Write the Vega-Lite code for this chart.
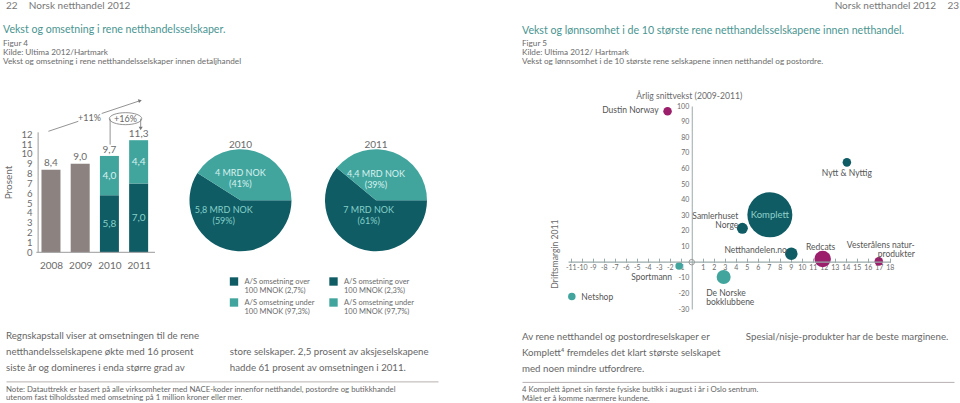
{
  "$schema": "https://vega.github.io/schema/vega-lite/v6.json",
  "padding": {"left": 3, "top": 1, "right": 0, "bottom": 0},
  "background": "white",
  "config": {
    "font": "Lato",
    "view": {"stroke": null},
    "locale": {"number": {"decimal": ",", "thousands": " ", "grouping": [3], "currency": ["", " kr"], "minus": "-"}},
    "axis": {"grid": false, "labelColor": "#6b6b6b", "titleColor": "#6b6b6b", "titleFontWeight": "normal", "labelFont": "Lato", "titleFont": "Lato", "domainColor": "#9a9a9a", "labelOverlap": false, "tickCount": 60},
    "title": {"font": "Lato", "fontWeight": "normal", "color": "#4a9591", "subtitleFont": "Lato", "subtitleColor": "#6b6b6b"},
    "legend": {"labelFont": "Lato"},
    "text": {"font": "Lato"}
  },
  "datasets": {
    "topp": [
      {"side": "v", "tekst": "22\u2002\u2002\u2009Norsk netthandel 2012"},
      {"side": "h", "tekst": "Norsk netthandel 2012\u2002\u2002\u200923"}
    ],
    "stolper": [
      {"aar": 2008, "del": "samlet", "verdi": 8.4},
      {"aar": 2009, "del": "samlet", "verdi": 9.0},
      {"aar": 2010, "del": "over", "verdi": 5.8},
      {"aar": 2010, "del": "under", "verdi": 4.0},
      {"aar": 2011, "del": "over", "verdi": 7.0},
      {"aar": 2011, "del": "under", "verdi": 4.4}
    ],
    "totaler": [
      {"aar": 2008, "total": 8.4},
      {"aar": 2009, "total": 9.0},
      {"aar": 2010, "total": 9.7},
      {"aar": 2011, "total": 11.3}
    ],
    "piler": [
      {"x1": 2007.912, "y1": 12.305, "x2": 2008.936, "y2": 13.322},
      {"x1": 2009.736, "y1": 14.116, "x2": 2011.05, "y2": 15.42},
      {"x1": 2010.024, "y1": 13.59, "x2": 2010.024, "y2": 10.95},
      {"x1": 2011.07, "y1": 13.59, "x2": 2011.07, "y2": 12.75}
    ],
    "merker": [
      {"type": "tekst", "aar": 2009.32, "v": 13.627, "tekst": "+11%"},
      {"type": "tekst", "aar": 2010.552, "v": 13.59, "tekst": "+16%"},
      {"type": "ring", "aar": 2010.552, "v": 13.59},
      {"type": "spiss1", "aar": 2011.05, "v": 15.42},
      {"type": "spiss2", "aar": 2011.07, "v": 12.6}
    ],
    "kake": [
      {"aar": "2010", "segment": "A/S omsetning over|100 MNOK (2,7%)", "del": "over", "andel": 59, "etikett": "5,8 MRD NOK\n(59%)"},
      {"aar": "2010", "segment": "A/S omsetning under|100 MNOK (97,3%)", "del": "under", "andel": 41, "etikett": "4 MRD NOK\n(41%)"},
      {"aar": "2011", "segment": "A/S omsetning over|100 MNOK (2,3%)", "del": "over", "andel": 61, "etikett": "7 MRD NOK\n(61%)"},
      {"aar": "2011", "segment": "A/S omsetning under|100 MNOK (97,7%)", "del": "under", "andel": 39, "etikett": "4,4 MRD NOK\n(39%)"}
    ],
    "firma": [
      {"navn": "Dustin Norway", "etikett": "Dustin Norway", "margin": -2.2, "vekst": 96.6, "oms": 145, "gruppe": "B"},
      {"navn": "Nytt & Nyttig", "etikett": "Nytt & Nyttig", "margin": 14.1, "vekst": 63.9, "oms": 145, "gruppe": "A"},
      {"navn": "Komplett", "etikett": "Komplett", "margin": 7.1, "vekst": 30.3, "oms": 4050, "gruppe": "A"},
      {"navn": "Samlerhuset Norge", "etikett": "Samlerhuset\nNorge", "margin": 4.6, "vekst": 21.7, "oms": 242, "gruppe": "A"},
      {"navn": "Netthandelen.no", "etikett": "Netthandelen.no", "margin": 9.05, "vekst": 5.4, "oms": 312, "gruppe": "A"},
      {"navn": "Redcats", "etikett": "Redcats", "margin": 11.9, "vekst": 2.0, "oms": 545, "gruppe": "B"},
      {"navn": "Vesterålens naturprodukter", "etikett": "Vesterålens natur-\nprodukter", "margin": 17.0, "vekst": 0.5, "oms": 145, "gruppe": "B"},
      {"navn": "Sportmann", "etikett": "Sportmann", "margin": -1.15, "vekst": -2.5, "oms": 112, "gruppe": "C"},
      {"navn": "De Norske bokklubbene", "etikett": "De Norske\nbokklubbene", "margin": 2.9, "vekst": -9.5, "oms": 392, "gruppe": "C"},
      {"navn": "Netshop", "etikett": "Netshop", "margin": -10.9, "vekst": -22.0, "oms": 112, "gruppe": "C"}
    ],
    "tekstV": [
      {"kol": "1", "linje": 1, "tekst": "Regnskapstall viser at omsetningen til de rene"},
      {"kol": "1", "linje": 2, "tekst": "netthandelsselskapene økte med 16 prosent"},
      {"kol": "1", "linje": 3, "tekst": "siste år og domineres i enda større grad av"},
      {"kol": "2", "linje": 2, "tekst": "store selskaper. 2,5 prosent av aksjeselskapene"},
      {"kol": "2", "linje": 3, "tekst": "hadde 61 prosent av omsetningen i 2011."}
    ],
    "tekstH": [
      {"kol": "1", "linje": 1, "tekst": "Av rene netthandel og postordreselskaper er"},
      {"kol": "1", "linje": 2, "tekst": "Komplett\u2074 fremdeles det klart største selskapet"},
      {"kol": "1", "linje": 3, "tekst": "med noen mindre utfordrere."},
      {"kol": "2", "linje": 1, "tekst": "Spesial/nisje-produkter har de beste marginene."}
    ],
    "fotV": [
      {"linje": 1, "tekst": "Note: Datauttrekk er basert på alle virksomheter med NACE-koder innenfor netthandel, postordre og butikkhandel"},
      {"linje": 2, "tekst": "utenom fast tilholdssted med omsetning på 1 million kroner eller mer."}
    ],
    "fotH": [
      {"linje": 1, "tekst": "4 Komplett åpnet sin første fysiske butikk i august i år i Oslo sentrum."},
      {"linje": 2, "tekst": "Målet er å komme nærmere kundene."}
    ]
  },
  "spacing": 14,
  "resolve": {"scale": {"color": "independent", "size": "independent", "theta": "independent"}},
  "vconcat": [
    {
      "width": 953,
      "height": 10,
      "data": {"name": "topp"},
      "layer": [
        {
          "transform": [{"filter": "datum.side === 'v'"}],
          "mark": {"type": "text", "align": "left", "baseline": "middle", "fontSize": 10, "color": "#777777"},
          "encoding": {
            "x": {"field": "side", "type": "nominal", "bandPosition": 0, "scale": {"type": "band", "domain": ["v", "h"], "paddingInner": 0, "paddingOuter": 0}, "axis": null},
            "text": {"field": "tekst"}
          }
        },
        {
          "transform": [{"filter": "datum.side === 'h'"}],
          "mark": {"type": "text", "align": "right", "baseline": "middle", "fontSize": 10, "color": "#777777"},
          "encoding": {
            "x": {"field": "side", "type": "nominal", "bandPosition": 1, "scale": {"type": "band", "domain": ["v", "h"], "paddingInner": 0, "paddingOuter": 0}, "axis": null},
            "text": {"field": "tekst"}
          }
        }
      ]
    },
    {
      "spacing": 84,
      "resolve": {"scale": {"color": "independent", "size": "independent", "theta": "independent"}},
      "hconcat": [
        {
          "title": {"text": "Vekst og omsetning i rene netthandelsselskaper.", "subtitle": ["Figur 4", "Kilde:  Ultima 2012/Hartmark", "Vekst og omsetning i rene netthandelsselskaper innen detaljhandel"], "anchor": "start", "frame": "bounds", "fontSize": 10.6, "subtitleFontSize": 8.2, "subtitleLineHeight": 9, "subtitlePadding": 4, "offset": 34},
          "spacing": 12.5,
          "resolve": {"scale": {"color": "independent", "size": "independent", "theta": "independent"}},
          "vconcat": [
            {
              "bounds": "flush",
              "spacing": 25.5,
              "resolve": {"scale": {"color": "independent", "size": "independent", "theta": "independent"}},
              "hconcat": [
                {
                  "width": 154,
                  "height": 146.3,
                  "layer": [
                    {
                      "data": {"name": "stolper"},
                      "mark": {"type": "bar", "size": 19},
                      "encoding": {
                        "x": {"field": "aar", "type": "quantitative", "scale": {"domain": [2006.632, 2011.56], "nice": false, "zero": false}, "axis": {"values": [2008, 2009, 2010, 2011], "format": "d", "title": null, "ticks": false, "domain": false, "labelFontSize": 10, "labelPadding": 8}},
                        "y": {"field": "verdi", "type": "quantitative", "stack": "zero", "scale": {"domain": [0, 14.878], "nice": false}, "axis": {"values": [0, 1, 2, 3, 4, 5, 6, 7, 8, 9, 10, 11, 12], "format": "d", "offset": -29, "domain": false, "title": "Prosent", "titleFontSize": 10, "titleX": -22, "titleY": 76, "ticks": false, "labelFontSize": 9.5, "labelPadding": 3}},
                        "color": {"field": "del", "type": "nominal", "scale": {"domain": ["samlet", "over", "under"], "range": ["#8c8381", "#0f5c65", "#41a59e"]}, "legend": null},
                        "order": {"field": "del", "sort": "ascending"}
                      }
                    },
                    {
                      "data": {"values": [{}]},
                      "mark": {"type": "rule", "color": "#9a9a9a", "strokeWidth": 1},
                      "encoding": {"x": {"datum": 2007.5}, "x2": {"datum": 2011.56}, "y": {"datum": 0}}
                    },
                    {
                      "data": {"values": [{}]},
                      "mark": {"type": "rule", "color": "#9a9a9a", "strokeWidth": 1},
                      "encoding": {"x": {"datum": 2007.56}, "y": {"datum": 0}, "y2": {"datum": 12.2}}
                    },
                    {
                      "data": {"name": "stolper"},
                      "transform": [
                        {"stack": "verdi", "groupby": ["aar"], "sort": [{"field": "del", "order": "ascending"}], "as": ["v0", "v1"]},
                        {"filter": {"field": "del", "oneOf": ["over", "under"]}},
                        {"fold": ["v0", "v1"], "as": ["kant", "pos"]},
                        {"aggregate": [{"op": "mean", "field": "pos", "as": "midt"}, {"op": "max", "field": "verdi", "as": "verdi"}], "groupby": ["aar", "del"]}
                      ],
                      "mark": {"type": "text", "fontSize": 10, "baseline": "middle"},
                      "encoding": {
                        "x": {"field": "aar", "type": "quantitative"},
                        "y": {"field": "midt", "type": "quantitative"},
                        "text": {"field": "verdi", "type": "quantitative", "format": ".1f"},
                        "color": {"condition": {"test": "datum.del === 'over'", "value": "#86d0c8"}, "value": "#d9f1ee"}
                      }
                    },
                    {
                      "data": {"name": "totaler"},
                      "mark": {"type": "text", "fontSize": 10, "baseline": "middle", "dy": -7, "color": "#6b6b6b"},
                      "encoding": {
                        "x": {"field": "aar", "type": "quantitative"},
                        "y": {"field": "total", "type": "quantitative"},
                        "text": {"field": "total", "type": "quantitative", "format": ".1f"}
                      }
                    },
                    {
                      "data": {"name": "piler"},
                      "mark": {"type": "rule", "color": "#777777", "strokeWidth": 0.8},
                      "encoding": {
                        "x": {"field": "x1", "type": "quantitative"},
                        "y": {"field": "y1", "type": "quantitative"},
                        "x2": {"field": "x2"},
                        "y2": {"field": "y2"}
                      }
                    },
                    {
                      "data": {"name": "merker"},
                      "transform": [{"filter": "datum.type === 'ring'"}],
                      "mark": {"type": "point", "shape": "M-1,0A1,0.37,0,1,0,1,0A1,0.37,0,1,0,-1,0Z", "filled": false, "size": 1050, "color": "#777777", "strokeWidth": 0.8, "opacity": 1},
                      "encoding": {"x": {"field": "aar", "type": "quantitative"}, "y": {"field": "v", "type": "quantitative"}}
                    },
                    {
                      "data": {"name": "merker"},
                      "transform": [{"filter": "datum.type === 'tekst'"}],
                      "mark": {"type": "text", "fontSize": 9, "color": "#666666", "baseline": "middle"},
                      "encoding": {"x": {"field": "aar", "type": "quantitative"}, "y": {"field": "v", "type": "quantitative"}, "text": {"field": "tekst"}}
                    },
                    {
                      "data": {"name": "merker"},
                      "transform": [{"filter": "datum.type === 'spiss1'"}],
                      "mark": {"type": "point", "shape": "triangle-right", "angle": -17, "size": 16, "filled": true, "color": "#777777", "opacity": 1},
                      "encoding": {"x": {"field": "aar", "type": "quantitative"}, "y": {"field": "v", "type": "quantitative"}}
                    },
                    {
                      "data": {"name": "merker"},
                      "transform": [{"filter": "datum.type === 'spiss2'"}],
                      "mark": {"type": "point", "shape": "triangle-down", "size": 16, "filled": true, "color": "#777777", "opacity": 1},
                      "encoding": {"x": {"field": "aar", "type": "quantitative"}, "y": {"field": "v", "type": "quantitative"}}
                    }
                  ]
                },
                {
                  "width": 110,
                  "height": 188.6,
                  "title": {"text": "2010", "fontSize": 10, "color": "#6b6b6b", "offset": -44, "anchor": "middle"},
                  "data": {"name": "kake"},
                  "transform": [{"filter": "datum.aar === '2010'"}],
                  "encoding": {
                    "theta": {"field": "andel", "type": "quantitative", "stack": true, "scale": {"range": [1.5708, 7.854]}},
                    "order": {"field": "del", "sort": "ascending"}
                  },
                  "layer": [
                    {
                      "mark": {"type": "arc", "outerRadius": 51},
                      "encoding": {"color": {"field": "segment", "type": "nominal", "scale": {"range": ["#0f5c65", "#41a59e"]}, "legend": {"orient": "none", "legendX": 44, "legendY": 171, "title": null, "labelExpr": "split(datum.label, '|')", "symbolType": "square", "symbolSize": 70, "symbolStrokeWidth": 0, "labelFontSize": 7.5, "labelColor": "#6b6b6b", "rowPadding": 3, "labelOffset": 6, "labelLimit": 200}}}
                    },
                    {
                      "mark": {"type": "text", "radius": 10, "dx": -14, "fontSize": 9, "lineBreak": "\n", "color": "#86d0c8", "baseline": "middle"},
                      "encoding": {"detail": {"field": "segment", "type": "nominal"}, "text": {"condition": {"test": "datum.del === 'over'", "field": "etikett"}, "value": ""}}
                    },
                    {
                      "mark": {"type": "text", "radius": 28, "dx": -8, "fontSize": 9, "lineBreak": "\n", "color": "#d9f1ee", "baseline": "middle"},
                      "encoding": {"detail": {"field": "segment", "type": "nominal"}, "text": {"condition": {"test": "datum.del === 'under'", "field": "etikett"}, "value": ""}}
                    }
                  ]
                },
                {
                  "width": 110,
                  "height": 188.6,
                  "title": {"text": "2011", "fontSize": 10, "color": "#6b6b6b", "offset": -44, "anchor": "middle"},
                  "data": {"name": "kake"},
                  "transform": [{"filter": "datum.aar === '2011'"}],
                  "encoding": {
                    "theta": {"field": "andel", "type": "quantitative", "stack": true, "scale": {"range": [1.5708, 7.854]}},
                    "order": {"field": "del", "sort": "ascending"}
                  },
                  "layer": [
                    {
                      "mark": {"type": "arc", "outerRadius": 51},
                      "encoding": {"color": {"field": "segment", "type": "nominal", "scale": {"range": ["#0f5c65", "#41a59e"]}, "legend": {"orient": "none", "legendX": 8, "legendY": 171, "title": null, "labelExpr": "split(datum.label, '|')", "symbolType": "square", "symbolSize": 70, "symbolStrokeWidth": 0, "labelFontSize": 7.5, "labelColor": "#6b6b6b", "rowPadding": 3, "labelOffset": 6, "labelLimit": 200}}}
                    },
                    {
                      "mark": {"type": "text", "radius": 10, "dx": -4, "fontSize": 9, "lineBreak": "\n", "color": "#86d0c8", "baseline": "middle"},
                      "encoding": {"detail": {"field": "segment", "type": "nominal"}, "text": {"condition": {"test": "datum.del === 'over'", "field": "etikett"}, "value": ""}}
                    },
                    {
                      "mark": {"type": "text", "radius": 28, "dx": -9.5, "fontSize": 9, "lineBreak": "\n", "color": "#d9f1ee", "baseline": "middle"},
                      "encoding": {"detail": {"field": "segment", "type": "nominal"}, "text": {"condition": {"test": "datum.del === 'under'", "field": "etikett"}, "value": ""}}
                    }
                  ]
                }
              ]
            },
            {
              "spacing": 4.9,
              "vconcat": [
                {
                  "width": 432,
                  "height": 47.4,
                  "data": {"name": "tekstV"},
                  "mark": {"type": "text", "align": "left", "baseline": "middle", "fontSize": 9.7, "color": "#666666"},
                  "encoding": {
                    "x": {"field": "kol", "type": "nominal", "bandPosition": 0, "scale": {"type": "band", "domain": ["1", "2"], "paddingInner": 0.07, "paddingOuter": 0}, "axis": null},
                    "y": {"field": "linje", "type": "ordinal", "scale": {"type": "band", "domain": [1, 2, 3], "paddingInner": 0, "paddingOuter": 0}, "axis": null},
                    "text": {"field": "tekst"}
                  }
                },
                {
                  "width": 432,
                  "height": 25,
                  "data": {"name": "fotV"},
                  "mark": {"type": "text", "align": "left", "baseline": "middle", "fontSize": 7.8, "color": "#666666"},
                  "encoding": {
                    "x": {"datum": 0, "type": "quantitative", "scale": {"domain": [0, 1], "nice": false}, "axis": {"orient": "top", "domain": true, "domainColor": "#b8b0b0", "labels": false, "ticks": false, "title": null}},
                    "y": {"field": "linje", "type": "ordinal", "scale": {"type": "point", "padding": 1}, "axis": null},
                    "text": {"field": "tekst"}
                  }
                }
              ]
            }
          ]
        },
        {
          "title": {"text": "Vekst og lønnsomhet i de 10 største rene netthandelsselskapene innen netthandel.", "subtitle": ["Figur 5", "Kilde: Ultima 2012/ Hartmark", "Vekst og lønnsomhet i de 10 største rene selskapene innen netthandel og postordre."], "anchor": "start", "frame": "bounds", "fontSize": 10.6, "subtitleFontSize": 8.2, "subtitleLineHeight": 9, "subtitlePadding": 4, "offset": 26},
          "spacing": 17,
          "resolve": {"scale": {"color": "independent", "size": "independent", "theta": "independent"}},
          "vconcat": [
            {
              "width": 368,
              "height": 203,
              "data": {"name": "firma"},
              "layer": [
                {
                  "mark": {"type": "circle", "opacity": 1},
                  "encoding": {
                    "x": {"field": "margin", "type": "quantitative", "scale": {"domain": [-15.43, 18.02], "nice": false, "zero": false}, "axis": {"orient": "bottom", "offset": -46.85, "domain": false, "format": "d", "values": [-11, -10, -9, -8, -7, -6, -5, -4, -3, -2, -1, 1, 2, 3, 4, 5, 6, 7, 8, 9, 10, 11, 12, 13, 14, 15, 16, 17, 18], "tickCount": 60, "tickSize": -4, "tickColor": "#9aa9a9", "labelFontSize": 7, "labelPadding": 5.5, "labelOverlap": false, "labelFlush": false, "title": "Driftsmargin 2011", "titleAngle": 270, "titleX": 32, "titleY": -8.5, "titleFontSize": 8.6, "titleAlign": "center", "titleBaseline": "middle"}},
                    "y": {"field": "vekst", "type": "quantitative", "scale": {"domain": [-30, 100], "nice": false, "zero": false}, "axis": {"orient": "left", "offset": -169.75, "format": "d", "values": [-30, -20, -10, 10, 20, 30, 40, 50, 60, 70, 80, 90, 100], "tickCount": 60, "ticks": false, "domainColor": "#9aa9a9", "labelFontSize": 7, "labelPadding": 3, "labelOverlap": false, "title": "Årlig snittvekst (2009-2011)", "titleAngle": 0, "titleX": -3, "titleY": -10.7, "titleFontSize": 8.6, "titleAlign": "center", "titleBaseline": "middle"}},
                    "size": {"field": "oms", "type": "quantitative", "scale": {"domain": [0, 4050], "range": [0, 2025], "zero": true}, "legend": null},
                    "color": {"field": "gruppe", "type": "nominal", "scale": {"domain": ["A", "B", "C"], "range": ["#0f5c65", "#9b1f6a", "#41a59e"]}, "legend": null}
                  }
                },
                {
                  "data": {"values": [{}]},
                  "mark": {"type": "rule", "color": "#9aa9a9", "strokeWidth": 1.2},
                  "encoding": {"x": {"datum": -11.2}, "x2": {"datum": 18.1}, "y": {"datum": 0}}
                },
                {
                  "data": {"values": [{}]},
                  "mark": {"type": "point", "shape": "circle", "filled": false, "color": "#999999", "size": 30, "strokeWidth": 1, "opacity": 1},
                  "encoding": {"x": {"datum": 0}, "y": {"datum": 0}}
                },
                {
                  "transform": [{"filter": "datum.navn === 'Dustin Norway'"}],
                  "mark": {"type": "text", "align": "right", "baseline": "middle", "dx": -9, "dy": -1.5, "fontSize": 8.5, "color": "#555555"},
                  "encoding": {"x": {"field": "margin", "type": "quantitative"}, "y": {"field": "vekst", "type": "quantitative"}, "text": {"field": "etikett"}}
                },
                {
                  "transform": [{"filter": "datum.navn === 'Nytt & Nyttig'"}],
                  "mark": {"type": "text", "align": "center", "baseline": "middle", "dy": 11, "fontSize": 8.5, "color": "#555555"},
                  "encoding": {"x": {"field": "margin", "type": "quantitative"}, "y": {"field": "vekst", "type": "quantitative"}, "text": {"field": "etikett"}}
                },
                {
                  "transform": [{"filter": "datum.navn === 'Komplett'"}],
                  "mark": {"type": "text", "align": "center", "baseline": "middle", "fontSize": 9.5, "color": "#8fd0c9"},
                  "encoding": {"x": {"field": "margin", "type": "quantitative"}, "y": {"field": "vekst", "type": "quantitative"}, "text": {"field": "etikett"}}
                },
                {
                  "transform": [{"filter": "datum.navn === 'Samlerhuset Norge'"}],
                  "mark": {"type": "text", "align": "right", "baseline": "middle", "dx": -4, "dy": -12, "fontSize": 8.5, "lineBreak": "\n", "lineHeight": 9, "color": "#555555"},
                  "encoding": {"x": {"field": "margin", "type": "quantitative"}, "y": {"field": "vekst", "type": "quantitative"}, "text": {"field": "etikett"}}
                },
                {
                  "transform": [{"filter": "datum.navn === 'Netthandelen.no'"}],
                  "mark": {"type": "text", "align": "right", "baseline": "middle", "dx": -4.5, "dy": -3.5, "fontSize": 8.5, "color": "#555555"},
                  "encoding": {"x": {"field": "margin", "type": "quantitative"}, "y": {"field": "vekst", "type": "quantitative"}, "text": {"field": "etikett"}}
                },
                {
                  "transform": [{"filter": "datum.navn === 'Redcats'"}],
                  "mark": {"type": "text", "align": "center", "baseline": "middle", "dx": -2, "dy": -12.5, "fontSize": 8.5, "color": "#555555"},
                  "encoding": {"x": {"field": "margin", "type": "quantitative"}, "y": {"field": "vekst", "type": "quantitative"}, "text": {"field": "etikett"}}
                },
                {
                  "transform": [{"filter": "datum.navn === 'Vesterålens naturprodukter'"}],
                  "mark": {"type": "text", "align": "right", "baseline": "middle", "dx": 36, "dy": -16, "fontSize": 8.5, "lineBreak": "\n", "lineHeight": 9, "color": "#555555"},
                  "encoding": {"x": {"field": "margin", "type": "quantitative"}, "y": {"field": "vekst", "type": "quantitative"}, "text": {"field": "etikett"}}
                },
                {
                  "transform": [{"filter": "datum.navn === 'Sportmann'"}],
                  "mark": {"type": "text", "align": "right", "baseline": "middle", "dx": -7, "dy": 10.5, "fontSize": 8.5, "color": "#555555"},
                  "encoding": {"x": {"field": "margin", "type": "quantitative"}, "y": {"field": "vekst", "type": "quantitative"}, "text": {"field": "etikett"}}
                },
                {
                  "transform": [{"filter": "datum.navn === 'De Norske bokklubbene'"}],
                  "mark": {"type": "text", "align": "left", "baseline": "middle", "dx": -17.5, "dy": 16.5, "fontSize": 8.5, "lineBreak": "\n", "lineHeight": 9, "color": "#555555"},
                  "encoding": {"x": {"field": "margin", "type": "quantitative"}, "y": {"field": "vekst", "type": "quantitative"}, "text": {"field": "etikett"}}
                },
                {
                  "transform": [{"filter": "datum.navn === 'Netshop'"}],
                  "mark": {"type": "text", "align": "left", "baseline": "middle", "dx": 9.5, "dy": 0.5, "fontSize": 8.5, "color": "#555555"},
                  "encoding": {"x": {"field": "margin", "type": "quantitative"}, "y": {"field": "vekst", "type": "quantitative"}, "text": {"field": "etikett"}}
                }
              ]
            },
            {
              "spacing": 4.9,
              "vconcat": [
                {
                  "width": 432,
                  "height": 47.4,
                  "data": {"name": "tekstH"},
                  "mark": {"type": "text", "align": "left", "baseline": "middle", "fontSize": 9.7, "color": "#666666"},
                  "encoding": {
                    "x": {"field": "kol", "type": "nominal", "bandPosition": 0, "scale": {"type": "band", "domain": ["1", "2"], "paddingInner": 0.07, "paddingOuter": 0}, "axis": null},
                    "y": {"field": "linje", "type": "ordinal", "scale": {"type": "band", "domain": [1, 2, 3], "paddingInner": 0, "paddingOuter": 0}, "axis": null},
                    "text": {"field": "tekst"}
                  }
                },
                {
                  "width": 432,
                  "height": 25,
                  "data": {"name": "fotH"},
                  "mark": {"type": "text", "align": "left", "baseline": "middle", "fontSize": 7.8, "color": "#666666"},
                  "encoding": {
                    "x": {"datum": 0, "type": "quantitative", "scale": {"domain": [0, 1], "nice": false}, "axis": {"orient": "top", "domain": true, "domainColor": "#b8b0b0", "labels": false, "ticks": false, "title": null}},
                    "y": {"field": "linje", "type": "ordinal", "scale": {"type": "point", "padding": 1}, "axis": null},
                    "text": {"field": "tekst"}
                  }
                }
              ]
            }
          ]
        }
      ]
    }
  ]
}
